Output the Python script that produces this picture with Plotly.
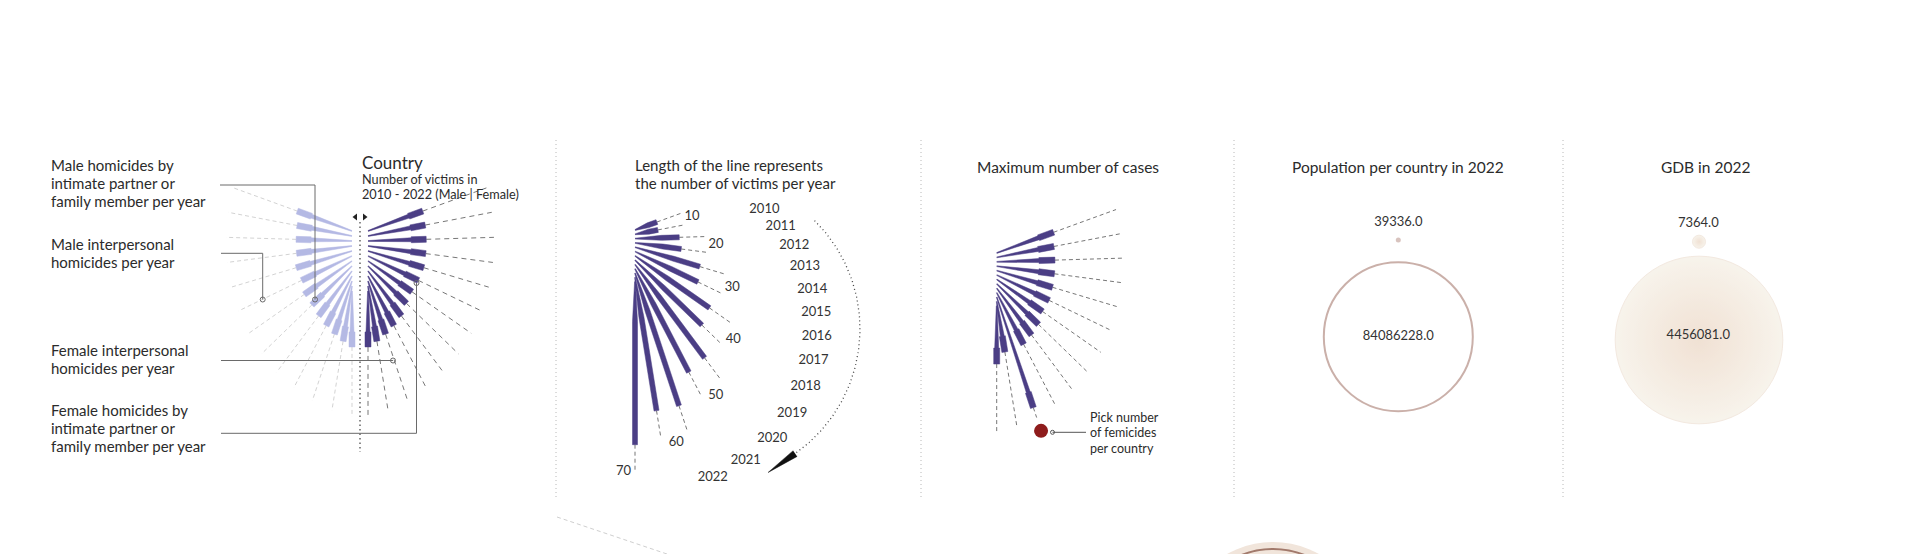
import numpy as np
import plotly.graph_objects as go

# ---------------- data ----------------
years = list(range(2010, 2023))
male_victims = [25, 24, 24, 24, 25, 24, 25, 24, 24, 24, 24, 24, 24]
female_victims = [25, 25, 25, 25, 25, 24, 23, 23, 24, 24, 24, 24, 24]
example_victims = [10, 10, 19, 20, 29, 30, 39, 40, 50, 50, 60, 58, 70]
scale_ticks = [10, 20, 30, 40, 50, 60, 70]
max_cases = [26, 25, 25, 25, 25, 25, 24, 25, 25, 25, 50, 22, 25]
population_2022 = [39336.0, 84086228.0]
gdp_2022 = [7364.0, 4456081.0]

# ---------------- layout constants ----------------
W, H = 1920, 554
PX = 2.33            # pixels per victim along a ray
FONT = "Lato"
INK = "#2b2b2b"
DARK = "#4b3e85"
LIGHT = "#b4b9e4"

fig = go.Figure()


def rays(values, ox, oy0, step, side=1):
    n = len(values)
    out = []
    for i, v in enumerate(values):
        a = np.radians(20 - 110 * i / (n - 1))
        d = np.array([side * np.cos(a), -np.sin(a)])
        o = np.array([ox, oy0 + step * i], dtype=float)
        out.append((o, d, v * PX))
    return out


def wedge_xy(rs, head_len, w_head, w_neck):
    xs, ys = [], []
    for o, d, L in rs:
        nrm = np.array([-d[1], d[0]])
        e = o + d * L
        hl = head_len(L) if callable(head_len) else head_len
        p = e - d * hl
        pts = [o + nrm * 0.4, p + nrm * w_neck / 2, p + nrm * w_head / 2, e + nrm * w_head / 2,
               e - nrm * w_head / 2, p - nrm * w_head / 2, p - nrm * w_neck / 2, o - nrm * 0.4]
        xs += [float(q[0]) for q in pts] + [None]
        ys += [float(q[1]) for q in pts] + [None]
    return xs, ys


def dash_xy(rs, r_end):
    xs, ys = [], []
    for o, d, L in rs:
        r1 = r_end(L) if callable(r_end) else r_end
        a = o + d * L
        b = o + d * r1
        xs += [float(a[0]), float(b[0]), None]
        ys += [float(a[1]), float(b[1]), None]
    return xs, ys


def add_poly(xs, ys, color):
    fig.add_trace(go.Scatter(x=xs, y=ys, mode="lines", fill="toself", fillcolor=color,
                             line=dict(color=color, width=0.5), hoverinfo="skip", showlegend=False))


def add_line(xs, ys, color, width=1, dash=None):
    fig.add_trace(go.Scatter(x=xs, y=ys, mode="lines",
                             line=dict(color=color, width=width, dash=dash),
                             hoverinfo="skip", showlegend=False))


def note(x, y, text, size=14, xanchor="left", color=INK):
    fig.add_annotation(x=x, y=y, xref="x", yref="y", text=text, showarrow=False,
                       xanchor=xanchor, yanchor="middle", align="left", borderpad=0,
                       font=dict(family=FONT, size=size, color=color))


def note_lines(x, y0, lines, gap, size=15, xanchor="left"):
    for j, ln in enumerate(lines):
        note(x, y0 + gap * j, ln, size=size, xanchor=xanchor)


# ---------------- separators ----------------
for sx in [556, 921, 1234, 1563]:
    add_line([sx, sx], [140, 500], "#b8b8b8", 1, "1px,3px")
add_line([557, 667], [517, 554], "#cfcfcf", 1, "4px,3px")

# ---------------- panel 1 : country glyph ----------------
left = rays(male_victims, 352, 231, 5, side=-1)
right = rays(female_victims, 368, 231, 5, side=1)
x, y = dash_xy(left, 126)
add_line(x, y, "#d3d3d3", 1, "4px,3px")
x, y = dash_xy(right, 126)
add_line(x, y, "#777777", 1, "5px,4px")
x, y = wedge_xy(left, 15, 6, 4)
add_poly(x, y, LIGHT)
x, y = wedge_xy(right, 15, 6, 4)
add_poly(x, y, DARK)

add_line([360, 360], [222, 452], "#666666", 1.5, "1.5px,3px")
fig.add_trace(go.Scatter(x=[355.5, 364.5], y=[217, 217], mode="markers",
                         marker=dict(symbol=["triangle-left", "triangle-right"], size=6, color="#222"),
                         hoverinfo="skip", showlegend=False))

connectors = [
    ([220, 315, 315], [185, 185, 299.5]),
    ([221, 262.7, 262.7], [253.3, 253.3, 299.5]),
    ([221, 393], [360.5, 360.5]),
    ([221, 416.5, 416.5], [433.3, 433.3, 283]),
]
for cx, cy in connectors:
    add_line(cx, cy, "#6a6a6a", 1)
fig.add_trace(go.Scatter(x=[c[0][-1] for c in connectors], y=[c[1][-1] for c in connectors],
                         mode="markers", marker=dict(symbol="circle-open", size=5, color="#6a6a6a",
                                                     line=dict(width=1)),
                         hoverinfo="skip", showlegend=False))

note_lines(50, 165, ["Male homicides by", "intimate partner or", "family member per year"], 18)
note_lines(50, 243.5, ["Male interpersonal", "homicides per year"], 18)
note_lines(50, 350, ["Female interpersonal", "homicides per year"], 18)
note_lines(50, 409.5, ["Female homicides by", "intimate partner or", "family member per year"], 18)
note(361, 162.5, "Country", size=17)
note_lines(361, 178.5, ["Number of victims in", "2010 - 2022 (Male | Female)"], 15, size=12.7)

# ---------------- panel 2 : line length ----------------
ex = rays(example_victims, 635, 230, 4.3, side=1)
x, y = dash_xy(ex, lambda L: L + 27)
add_line(x, y, "#777777", 1, "4px,3px")
x, y = wedge_xy(ex, lambda L: L - min(40, 0.6 * L), 5, 5)
add_poly(x, y, DARK)

tx, ty, tpos = [], [], []
for t in scale_ticks:
    idx = [i for i, v in enumerate(example_victims) if abs(v - t) <= 2]
    ends = np.array([ex[i][0] + ex[i][1] * (ex[i][2] + 27) for i in idx])
    dirs = np.array([ex[i][1] for i in idx])
    m = ends.mean(axis=0)
    dm = dirs.mean(axis=0)
    dm = dm / np.linalg.norm(dm)
    if len(idx) == 1:
        tx.append(float(m[0]) - 4)
        ty.append(float(m[1]))
        tpos.append("middle left")
    else:
        p = m + dm * 9
        tx.append(float(p[0]))
        ty.append(float(p[1]))
        tpos.append("middle center")
fig.add_trace(go.Scatter(x=tx, y=ty, mode="text", text=[str(t) for t in scale_ticks],
                         textposition=tpos, textfont=dict(family=FONT, size=13, color="#333"),
                         hoverinfo="skip", showlegend=False))

# year labels on an arc
yc, yr = np.array([658.0, 328.0]), 159.0
yx, yy = [], []
for i, _ in enumerate(years):
    a = np.radians(48 - 8.5 * i - 0.44 * max(0, i - 6) ** 2)
    yx.append(float(yc[0] + yr * np.cos(a)))
    yy.append(float(yc[1] - yr * np.sin(a)))
fig.add_trace(go.Scatter(x=yx, y=yy, mode="text", text=[str(v) for v in years],
                         textposition="middle center", textfont=dict(family=FONT, size=13, color="#333"),
                         hoverinfo="skip", showlegend=False))

# dotted direction arc + wedge arrow
ac, ar = np.array([708.0, 329.0]), 152.0
ang = np.radians(np.linspace(45.5, -55, 120))
add_line((ac[0] + ar * np.cos(ang)).tolist(), (ac[1] - ar * np.sin(ang)).tolist(), "#444", 1.3, "1px,3px")
phi = np.radians(-55)
base = ac + ar * np.array([np.cos(phi), -np.sin(phi)])
tang = np.array([np.sin(phi), np.cos(phi)])
tang = tang / np.linalg.norm(tang)
tip = base + tang * 33
nrm = np.array([-tang[1], tang[0]])
tri = [base + nrm * 3.5, tip, base - nrm * 3.5]
add_poly([float(p[0]) for p in tri], [float(p[1]) for p in tri], "#111")

note_lines(634, 165, ["Length of the line represents", "the number of victims per year"], 17.7)

# ---------------- panel 3 : maximum number of cases ----------------
mc = rays(max_cases, 996.7, 253, 4.4, side=1)
x, y = dash_xy(mc, 127)
add_line(x, y, "#777777", 1, "4px,3px")
x, y = wedge_xy(mc, 16, 6, 4)
add_poly(x, y, DARK)
k = int(np.argmax(max_cases))
dot = mc[k][0] + mc[k][1] * 141
add_line([1052.5, 1086], [432.3, 432.3], "#555", 1)
fig.add_trace(go.Scatter(x=[float(dot[0])], y=[float(dot[1])], mode="markers",
                         marker=dict(size=14, color="#8e1c1c"), hoverinfo="skip", showlegend=False))
fig.add_trace(go.Scatter(x=[1052.5], y=[432.3], mode="markers",
                         marker=dict(symbol="circle-open", size=4, color="#555", line=dict(width=1)),
                         hoverinfo="skip", showlegend=False))
note(1067.5, 166.7, "Maximum number of cases", size=15.5, xanchor="center")
note_lines(1089, 417.3, ["Pick number", "of femicides", "per country"], 15.5, size=12.5)

# ---------------- panel 4 : population ----------------
pmax = max(population_2022)
psize = [max(5.0, 149.0 * np.sqrt(v / pmax)) for v in population_2022]
py = [240.0, 336.7]
fig.add_trace(go.Scatter(x=[1398.3, 1398.3], y=py, mode="markers",
                         marker=dict(size=psize, color=["#c8aaa3", "rgba(255,255,255,0)"],
                                     line=dict(color="#b58f86", width=[0, 2])),
                         hoverinfo="skip", showlegend=False))
fig.add_trace(go.Scatter(x=[1398.3, 1398.3], y=[py[0] - 17, py[1]], mode="text",
                         text=[f"{v:.1f}" for v in population_2022], textposition="middle center",
                         textfont=dict(family=FONT, size=13, color="#333"),
                         hoverinfo="skip", showlegend=False))
note(1397.5, 166.7, "Population per country in 2022", size=15.5, xanchor="center")

# ---------------- panel 5 : GDP ----------------
gmax = max(gdp_2022)
gsize = [max(13.0, 167.6 * np.sqrt(v / gmax)) for v in gdp_2022]
gy = [241.7, 340.0]
fig.add_trace(go.Scatter(x=[1699, 1699], y=gy, mode="markers",
                         marker=dict(size=gsize, color="#f5efe4",
                                     gradient=dict(type="radial", color="#ebd5c2"),
                                     line=dict(color="#eee0d3", width=1)),
                         hoverinfo="skip", showlegend=False))
fig.add_trace(go.Scatter(x=[1698.3, 1698.3], y=[gy[0] - 18, gy[1] - 4], mode="text",
                         text=[f"{v:.1f}" for v in gdp_2022], textposition="middle center",
                         textfont=dict(family=FONT, size=13, color="#333"),
                         hoverinfo="skip", showlegend=False))
note(1705.8, 166.7, "GDB in 2022", size=15.5, xanchor="center")

# ---------------- cropped glyph of the next section ----------------
fig.add_shape(type="circle", xref="x", yref="y", x0=1273 - 94, x1=1273 + 94, y0=542, y1=730,
              fillcolor="#f1e5db", line=dict(width=0), layer="below")
fig.add_shape(type="circle", xref="x", yref="y", x0=1273 - 86, x1=1273 + 86, y0=549, y1=721,
              fillcolor="rgba(0,0,0,0)", line=dict(color="#a27a6c", width=2), layer="below")

fig.update_layout(
    width=W, height=H, margin=dict(l=0, r=0, t=0, b=0, pad=0),
    paper_bgcolor="white", plot_bgcolor="white", showlegend=False,
    xaxis=dict(range=[0, W], visible=False, fixedrange=True),
    yaxis=dict(range=[H, 0], visible=False, fixedrange=True),
)
fig.write_html("out.html")
